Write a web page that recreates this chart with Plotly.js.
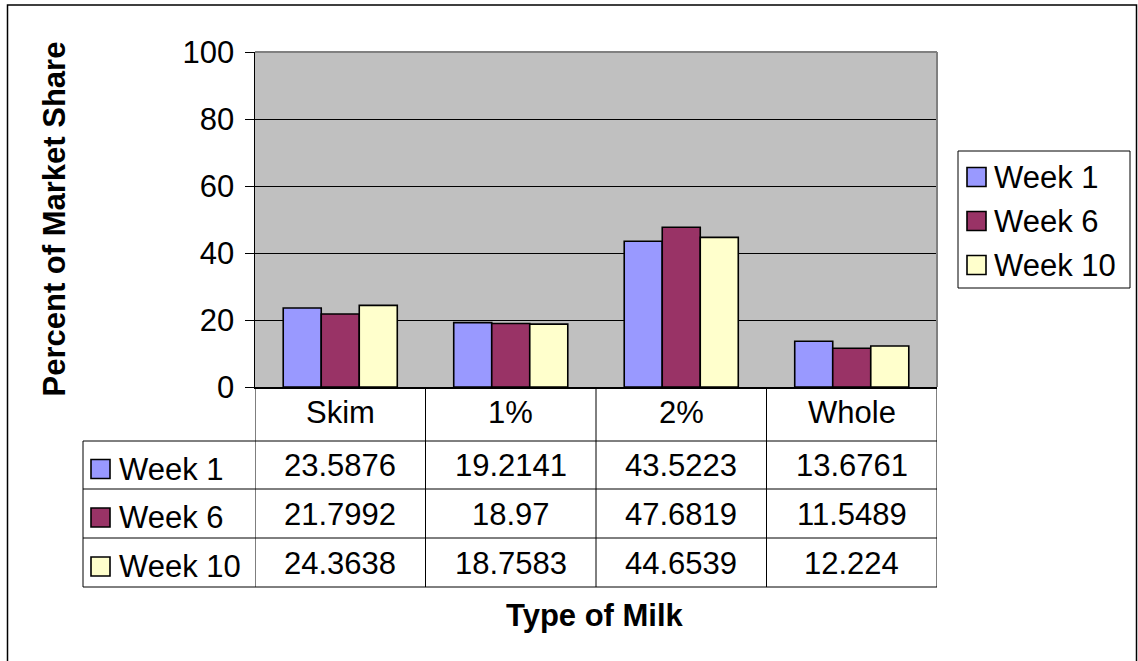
<!DOCTYPE html>
<html>
<head>
<meta charset="utf-8">
<script src="https://cdn.plot.ly/plotly-3.0.1.min.js"></script>
<style>html,body{margin:0;padding:0;background:#fff;}#chart{width:1138px;height:661px;}</style>
</head>
<body>
<div id="chart"></div>
<script>
const categories = ['Skim', '1%', '2%', 'Whole'];
const seriesNames = ['Week 1', 'Week 6', 'Week 10'];
const week1 = [23.5876, 19.2141, 43.5223, 13.6761];
const week6 = [21.7992, 18.97, 47.6819, 11.5489];
const week10 = [24.3638, 18.7583, 44.6539, 12.224];
const yTickVals = [0, 20, 40, 60, 80, 100];
const xTitle = 'Type of Milk';
const yTitle = 'Percent of Market Share';

const seriesValues = [week1, week6, week10];
const colors = ['#9999FF', '#993366', '#FFFFCC'];
const FONT = 'Liberation Sans, Arial, sans-serif';
const FS = 31;

// plot area in pixels
const L = 255, R = 937, T = 52, B = 387;
const W = 1138, H = 661;
const px = X => (X - L) / (R - L);
const py = Y => (B - Y) / (B - T);

const traces = seriesNames.map((name, i) => ({
  type: 'bar',
  name: name,
  x: categories,
  y: seriesValues[i],
  marker: {color: colors[i], line: {color: '#000', width: 1.6}},
  showlegend: false,
  hoverinfo: 'x+y+name'
}));

const shapes = [];
const annotations = [];
const line = (x0, y0, x1, y1, color, width, xref) => shapes.push({
  type: 'line', xref: xref || 'paper', yref: 'paper', x0: x0, y0: y0, x1: x1, y1: y1,
  line: {color: color, width: width}, layer: 'above'
});

// outer chart border
shapes.push({type: 'rect', xref: 'paper', yref: 'paper', x0: px(7.5), x1: px(1136.5), y0: py(5), y1: py(700),
  line: {color: '#000', width: 1.5}, fillcolor: 'rgba(0,0,0,0)', layer: 'below'});

// plot area top/right border (gray)
line(0, 1, 1, 1, '#808080', 2);
line(1, 0, 1, 1, '#808080', 2);

// data table geometry
const rowLines = [441, 489, 538, 587];
const tblLeft = 83;
rowLines.forEach(Y => line(px(tblLeft), py(Y), px(R), py(Y), '#000', 1));
line(px(tblLeft), py(rowLines[0]), px(tblLeft), py(rowLines[3]), '#000', 1);
for (let i = 0; i <= categories.length; i++) {
  line(i - 0.5, 0, i - 0.5, py(rowLines[3]), '#000', 1, 'x');
}

// category header row
categories.forEach(c => annotations.push({
  xref: 'x', yref: 'paper', x: c, y: py(413), text: c, showarrow: false,
  xanchor: 'center', yanchor: 'middle', font: {family: FONT, size: FS, color: '#000'}
}));

// value rows
seriesNames.forEach((name, s) => {
  const rowTop = rowLines[s], rowBot = rowLines[s + 1];
  const yc = (rowTop + rowBot) / 2;
  seriesValues[s].forEach((v, j) => annotations.push({
    xref: 'x', yref: 'paper', x: categories[j], y: py(yc + 0.5), text: String(v), showarrow: false,
    xanchor: 'center', yanchor: 'middle', font: {family: FONT, size: FS, color: '#000'}
  }));
  // row label key square + name
  shapes.push({type: 'rect', xref: 'paper', yref: 'paper', x0: px(91), x1: px(110), y0: py(yc + 4 - 9.5), y1: py(yc + 4 + 9.5),
    fillcolor: colors[s], line: {color: '#000', width: 1.6}, layer: 'above'});
  annotations.push({xref: 'paper', yref: 'paper', x: px(117), y: py(yc + 4), text: name, showarrow: false,
    xanchor: 'left', yanchor: 'middle', font: {family: FONT, size: FS, color: '#000'}});
});

// legend box
shapes.push({type: 'rect', xref: 'paper', yref: 'paper', x0: px(958), x1: px(1130), y0: py(151), y1: py(288),
  line: {color: '#000', width: 1}, fillcolor: '#fff', layer: 'below'});
const legY = [177, 221, 265];
seriesNames.forEach((name, s) => {
  shapes.push({type: 'rect', xref: 'paper', yref: 'paper', x0: px(967), x1: px(986), y0: py(legY[s] - 9.5), y1: py(legY[s] + 9.5),
    fillcolor: colors[s], line: {color: '#000', width: 1.6}, layer: 'above'});
  annotations.push({xref: 'paper', yref: 'paper', x: px(992), y: py(legY[s]), text: name, showarrow: false,
    xanchor: 'left', yanchor: 'middle', font: {family: FONT, size: FS, color: '#000'}});
});

// axis titles
annotations.push({xref: 'paper', yref: 'paper', x: px(595), y: py(615), text: '<b>' + xTitle + '</b>', showarrow: false,
  xanchor: 'center', yanchor: 'middle', font: {family: FONT, size: FS, color: '#000'}});
annotations.push({xref: 'paper', yref: 'paper', x: px(54), y: 0.5, text: '<b>' + yTitle + '</b>', showarrow: false,
  textangle: -90, xanchor: 'center', yanchor: 'middle', font: {family: FONT, size: FS, color: '#000'}});

const layout = {
  width: W, height: H,
  margin: {l: L, r: W - R, t: T, b: H - B, pad: 0},
  paper_bgcolor: '#fff',
  plot_bgcolor: '#C0C0C0',
  font: {family: FONT, size: FS, color: '#000'},
  barmode: 'group',
  bargap: 0.331,
  bargroupgap: 0,
  showlegend: false,
  xaxis: {
    type: 'category', categoryarray: categories, range: [-0.5, categories.length - 0.5],
    showticklabels: false, showgrid: false, zeroline: false, ticks: '',
    showline: true, linecolor: '#000', linewidth: 1.5, fixedrange: true
  },
  yaxis: {
    range: [0, 100], tickvals: yTickVals, ticktext: yTickVals.map(String),
    showgrid: true, gridcolor: '#000', gridwidth: 1, zeroline: false,
    ticks: 'outside', ticklen: 9, tickcolor: '#000', tickwidth: 1,
    showline: true, linecolor: '#000', linewidth: 1.5,
    tickfont: {family: FONT, size: FS, color: '#000'}, ticklabelstandoff: 4, fixedrange: true
  },
  shapes: shapes,
  annotations: annotations
};

Plotly.newPlot('chart', traces, layout, {displayModeBar: false, staticPlot: true});
</script>
</body>
</html>
